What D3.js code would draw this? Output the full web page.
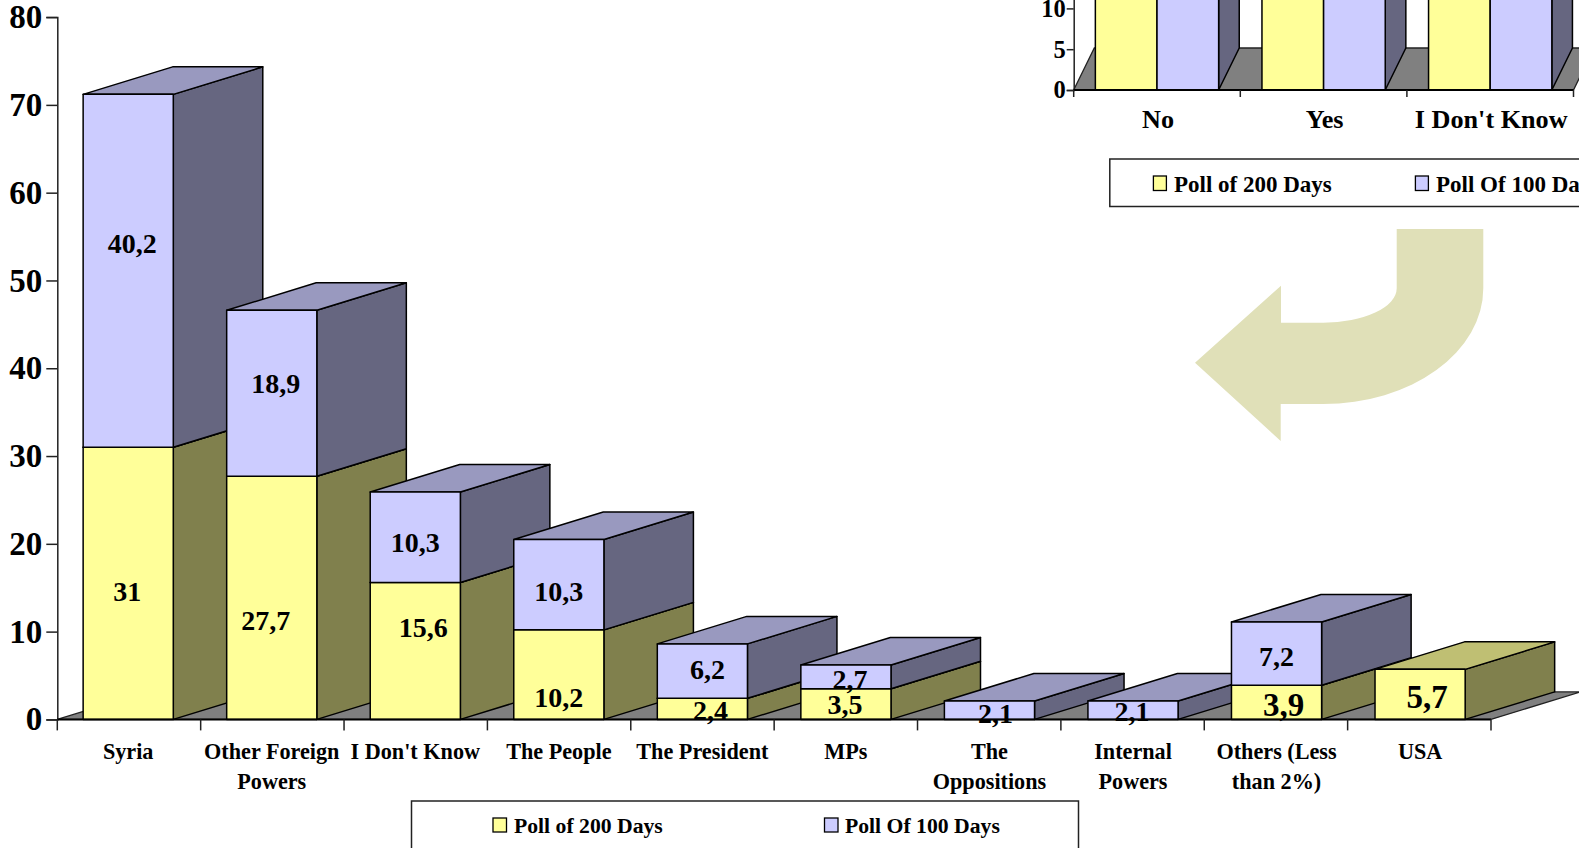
<!DOCTYPE html>
<html><head><meta charset="utf-8">
<script src="https://cdn.jsdelivr.net/npm/d3@7/dist/d3.min.js"></script>
<style>
html,body{margin:0;padding:0;background:#fff;overflow:hidden}
svg{display:block}
text{font-family:"Liberation Serif","Times New Roman",serif;font-weight:bold;fill:#000}
</style></head><body>
<svg id="c" width="1579" height="848"></svg>
<script>
// ---- data ----
const categories = ["Syria","Other Foreign Powers","I Don't Know","The People","The President","MPs","The Oppositions","Internal Powers","Others (Less than 2%)","USA"];
const categoryLines = [["Syria"],["Other Foreign","Powers"],["I Don't Know"],["The People"],["The President"],["MPs"],["The","Oppositions"],["Internal","Powers"],["Others (Less","than 2%)"],["USA"]];
const poll200 = [31,27.7,15.6,10.2,2.4,3.5,0,0,3.9,5.7];
const poll100 = [40.2,18.9,10.3,10.3,6.2,2.7,2.1,2.1,7.2,0];
const seriesNames = ["Poll of 200 Days","Poll Of 100 Days"];
const mainTicks = [0,10,20,30,40,50,60,70,80];
const insetCategories = ["No","Yes","I Don't Know"];
// inset bars run off the top of the page: their tops are not readable, only that they exceed 10
const insetPoll200 = [46,40,14];
const insetPoll100 = [44,42,14];
const insetTicks = [0,5,10];

// ---- label placement / styling (not data) ----
const nudge200 = [[-1,8],[-6,23],[8,-23],[0,23],[8,2],[-1,0],[0,0],[0,0],[7,2],[7,2]];
const nudge100 = [[4,-27],[4,-10],[0,5],[0,7],[5,-2],[4,3],[6,3.5],[-1,1.5],[0,3],[0,0]];
const size200 = [28,28,28,28,28,28,28,28,33,33];
const size100 = [28,28,28,28,28,28,28,28,28,28];
const palette = [
  {front:"#FFFF99",side:"#80804D",top:"#BFBF73"},
  {front:"#CCCCFF",side:"#666680",top:"#9999BF"}
];
const locale = d3.formatLocale({decimal:",",thousands:".",grouping:[3],currency:["",""]});
const fmt = v => locale.format(",")(v);

const svg = d3.select("#c");

function drawChart(g, o){
  const x = d3.scaleBand().domain(o.cats).range(o.xRange).paddingInner(o.pad).paddingOuter(o.outer);
  const y = d3.scaleLinear().domain(o.yDomain).range(o.yRange);
  const y0 = y(0), dx = o.dx, dy = o.dy, xL = o.xRange[0], xR = o.xRange[1];
  // floor
  g.append("path").attr("fill","#808080").attr("stroke","#222").attr("stroke-width",1.3)
    .attr("d",`M${xL},${y0}L${xL+dx},${y0-dy}L${xR+dx},${y0-dy}L${xR},${y0}Z`);
  // axis
  const axisY = d3.axisLeft(y).tickValues(o.ticks).tickSize(o.tickLen).tickPadding(o.tickPad).tickFormat(d3.format("d"));
  const ay = g.append("g").attr("transform",`translate(${xL},0)`).call(axisY);
  ay.selectAll("path,line").attr("stroke","#222").attr("stroke-width",1.5);
  ay.selectAll("text").style("font-size",o.tickFont+"px").attr("fill","#000")
    .style("font-family",'"Liberation Serif",serif').style("font-weight","bold");
  // bars: painter's order, left to right
  o.cats.forEach((c,i)=>{
    const w = o.segW(x);
    o.series.forEach((vals,s)=>{
      const v = vals[i]; if(!v) return;
      let base = 0; for(let k=0;k<s;k++) base += o.stacked ? o.series[k][i] : 0;
      const bx = x(c) + (o.stacked ? 0 : s*w);
      const yb = y(base), yt = y(base+v);
      const col = palette[s];
      const st = {stroke:"#000","stroke-width":1.5,"stroke-linejoin":"round"};
      const p = (d,f)=>{const e=g.append("path").attr("d",d).attr("fill",f);for(const k in st)e.attr(k,st[k]);};
      p(`M${bx+w},${yb}L${bx+w+dx},${yb-dy}L${bx+w+dx},${yt-dy}L${bx+w},${yt}Z`,col.side);
      p(`M${bx},${yt}L${bx+w},${yt}L${bx+w+dx},${yt-dy}L${bx+dx},${yt-dy}Z`,col.top);
      p(`M${bx},${yb}L${bx+w},${yb}L${bx+w},${yt}L${bx},${yt}Z`,col.front);
    });
  });
  // baseline + category ticks
  g.append("line").attr("x1",xL).attr("x2",xR).attr("y1",y0).attr("y2",y0).attr("stroke","#000").attr("stroke-width",2);
  const edges = d3.range(o.cats.length+1).map(i=>xL+i*(xR-xL)/o.cats.length);
  g.selectAll(null).data(edges).join("line").attr("x1",d=>d).attr("x2",d=>d).attr("y1",y0).attr("y2",y0+o.xTick)
    .attr("stroke","#222").attr("stroke-width",1.5);
  return {x,y};
}

// ---- main chart ----
const main = svg.append("g");
const {x:mx,y:my} = drawChart(main,{
  cats:categories, series:[poll200,poll100], stacked:true,
  xRange:[57.3,1491], pad:0.372, outer:0.18, yDomain:[0,80], yRange:[719.4,17.1],
  dx:89.5, dy:27.5, ticks:mainTicks, tickLen:11, tickPad:4, tickFont:33, xTick:11,
  segW:x=>x.bandwidth()
});
// category labels
categories.forEach((c,i)=>{
  const t = main.append("text").attr("text-anchor","middle").style("font-size","22.2px");
  categoryLines[i].forEach((ln,j)=>{
    t.append("tspan").attr("x",mx(c)+mx.bandwidth()/2).attr("y",758.5+j*30.5).text(ln);
  });
});
// data labels
[[poll200,nudge200,size200],[poll100,nudge100,size100]].forEach(([vals,nud,sz],s)=>{
  vals.forEach((v,i)=>{
    if(!v) return;
    const base = s===0?0:poll200[i];
    main.append("text").attr("text-anchor","middle").attr("dy","0.34em")
      .attr("x",mx(categories[i])+mx.bandwidth()/2+nud[i][0])
      .attr("y",my(base+v/2)+nud[i][1])
      .style("font-size",sz[i]+"px").text(fmt(v));
  });
});

function legend(g,box,items,font){
  g.append("rect").attr("x",box.x).attr("y",box.y).attr("width",box.w).attr("height",box.h)
    .attr("fill","#fff").attr("stroke","#222").attr("stroke-width",1.5);
  items.forEach((it,i)=>{
    g.append("rect").attr("x",it.sx).attr("y",it.sy).attr("width",it.sw).attr("height",it.sh)
      .attr("fill",palette[i].front).attr("stroke","#000").attr("stroke-width",1.3);
    g.append("text").attr("x",it.tx).attr("y",it.ty).style("font-size",font+"px").text(seriesNames[i]);
  });
}
legend(svg.append("g"),{x:411.5,y:801,w:667,h:60},[
  {sx:493,sy:818,sw:13.5,sh:14,tx:514,ty:833},
  {sx:824.5,sy:818,sw:13.5,sh:14,tx:845,ty:833}
],21.7);

// ---- inset chart ----
const inset = svg.append("g");
const {x:ix} = drawChart(inset,{
  cats:insetCategories, series:[insetPoll200,insetPoll100], stacked:false,
  xRange:[1073.7,1573.5], pad:0.26, outer:0.13, yDomain:[0,50], yRange:[90,-318],
  dx:20.6, dy:42, ticks:insetTicks, tickLen:7, tickPad:1, tickFont:24.5, xTick:7,
  segW:x=>x.bandwidth()/2
});
insetCategories.forEach(c=>{
  inset.append("text").attr("text-anchor","middle").attr("x",ix(c)+ix.bandwidth()/2+1).attr("y",128)
    .style("font-size","26.2px").text(c);
});
legend(svg.append("g"),{x:1109.8,y:159,w:520,h:47.5},[
  {sx:1153.4,sy:176,sw:13,sh:14.5,tx:1174,ty:191.5},
  {sx:1415.4,sy:176,sw:13,sh:14.5,tx:1436,ty:191.5}
],23);

// ---- decorative arrow ----
svg.append("path").attr("fill","#E0E0B8")
  .attr("d","M1396.7,229L1483.3,229L1483.3,288.3A160,115.7 0 0 1 1323.3,404L1280.7,404L1280.7,441L1195,362.7L1281,285.7L1281,322.7L1323.3,322.7A73.4,34.4 0 0 0 1396.7,288.3Z");
</script>
</body></html>
